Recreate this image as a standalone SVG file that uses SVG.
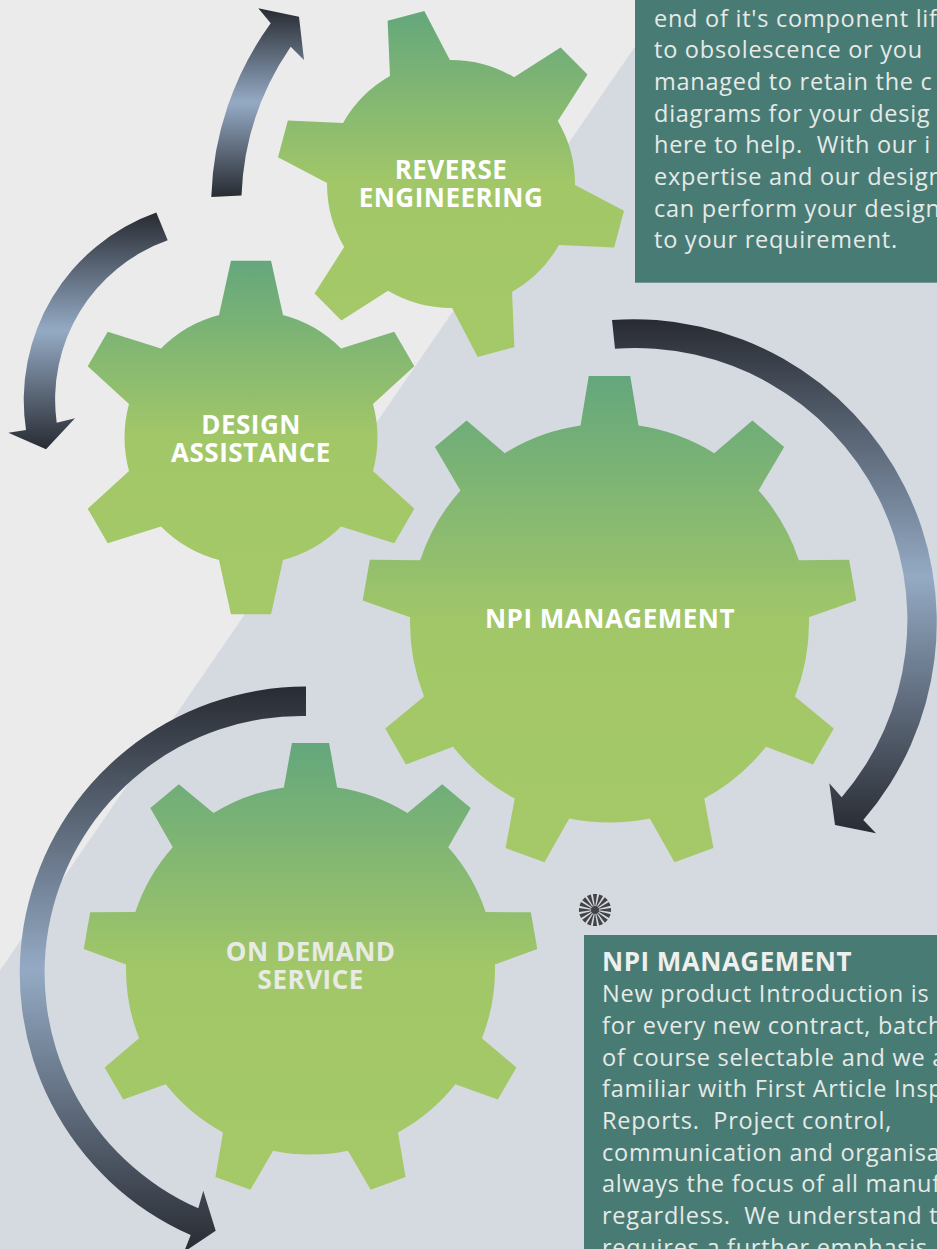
<svg xmlns="http://www.w3.org/2000/svg" xmlns:xlink="http://www.w3.org/1999/xlink" width="937" height="1249" viewBox="0 0 937 1249">
<style>
  .lbl { font-family: "Open Sans", "Liberation Sans", sans-serif; font-weight: 700; font-size: 26px; letter-spacing: 0.5px; fill: #ffffff; text-anchor: middle; }
  .lbl-dim { fill: #e8eae4; }
  .body { font-family: "Open Sans", "Liberation Sans", sans-serif; font-size: 23.5px; letter-spacing: 0.75px; fill: #e6eae7; white-space: pre; }
  .head { font-family: "Open Sans", "Liberation Sans", sans-serif; font-weight: 700; font-size: 26px; letter-spacing: 0.5px; fill: #eef0ee; }
  .arrow { fill: url(#arrowGrad); }
  .gearfill { fill: url(#gearGrad); }
  .box { fill: #497b75; }
</style>
<defs>
  <linearGradient id="gearGrad" x1="0" y1="0" x2="0" y2="1">
    <stop offset="0" stop-color="#64a77c"/>
    <stop offset="0.5" stop-color="#a2c768"/>
    <stop offset="1" stop-color="#a5c967"/>
  </linearGradient>
  <linearGradient id="arrowGrad" x1="0" y1="0" x2="0" y2="1">
    <stop offset="0" stop-color="#282b32"/>
    <stop offset="0.5" stop-color="#94aac4"/>
    <stop offset="1" stop-color="#282b32"/>
  </linearGradient>
  <polygon id="tA" points="-19,-174 19,-174 32.2,-114.7 0,0 -32.2,-114.7"/>
  <polygon id="tB" points="-20,-177 20,-177 33.2,-116.9 0,0 -33.2,-116.9"/>
  <polygon id="tC" points="-20.75,-247 20.75,-247 29.8,-192.4 0,0 -29.8,-192.4"/>
  <polygon id="tD" points="-18.6,-227 18.6,-227 27.4,-178.2 0,0 -27.4,-178.2"/>
  <polygon id="ray" points="-2.1,-16 2.1,-16 0,-2"/>
  <clipPath id="cA">
    <circle cx="451" cy="184" r="124"/>
    <use href="#tA" transform="translate(451 184) rotate(-15)"/>
    <use href="#tA" transform="translate(451 184) rotate(45)"/>
    <use href="#tA" transform="translate(451 184) rotate(105)"/>
    <use href="#tA" transform="translate(451 184) rotate(165)"/>
    <use href="#tA" transform="translate(451 184) rotate(225)"/>
    <use href="#tA" transform="translate(451 184) rotate(285)"/>
  </clipPath>
  <clipPath id="cB">
    <circle cx="251" cy="437.5" r="126.5"/>
    <use href="#tB" transform="translate(251 437.5) rotate(0)"/>
    <use href="#tB" transform="translate(251 437.5) rotate(60)"/>
    <use href="#tB" transform="translate(251 437.5) rotate(120)"/>
    <use href="#tB" transform="translate(251 437.5) rotate(180)"/>
    <use href="#tB" transform="translate(251 437.5) rotate(240)"/>
    <use href="#tB" transform="translate(251 437.5) rotate(300)"/>
  </clipPath>
  <clipPath id="cC">
    <circle cx="609.5" cy="623" r="199.5"/>
    <use href="#tC" transform="translate(609.5 623) rotate(0)"/>
    <use href="#tC" transform="translate(609.5 623) rotate(40)"/>
    <use href="#tC" transform="translate(609.5 623) rotate(80)"/>
    <use href="#tC" transform="translate(609.5 623) rotate(120)"/>
    <use href="#tC" transform="translate(609.5 623) rotate(160)"/>
    <use href="#tC" transform="translate(609.5 623) rotate(200)"/>
    <use href="#tC" transform="translate(609.5 623) rotate(240)"/>
    <use href="#tC" transform="translate(609.5 623) rotate(280)"/>
    <use href="#tC" transform="translate(609.5 623) rotate(320)"/>
  </clipPath>
  <clipPath id="cD">
    <circle cx="310.5" cy="970" r="184.5"/>
    <use href="#tD" transform="translate(310.5 970) rotate(0)"/>
    <use href="#tD" transform="translate(310.5 970) rotate(40)"/>
    <use href="#tD" transform="translate(310.5 970) rotate(80)"/>
    <use href="#tD" transform="translate(310.5 970) rotate(120)"/>
    <use href="#tD" transform="translate(310.5 970) rotate(160)"/>
    <use href="#tD" transform="translate(310.5 970) rotate(200)"/>
    <use href="#tD" transform="translate(310.5 970) rotate(240)"/>
    <use href="#tD" transform="translate(310.5 970) rotate(280)"/>
    <use href="#tD" transform="translate(310.5 970) rotate(320)"/>
  </clipPath>
</defs>

<g id="background">
  <rect x="0" y="0" width="937" height="1249" fill="#ebebeb"/>
  <polygon points="667,0 937,0 937,1249 0,1249 0,970.3" fill="#d5d9e0"/>
</g>

<g id="box-reverse">
  <rect class="box" x="635" y="-2" width="304" height="284.7"/>
  <text class="body" xml:space="preserve">
    <tspan x="654" y="26.7">end of it's component lif</tspan>
    <tspan x="654" y="58.3">to obsolescence or you</tspan>
    <tspan x="654" y="90">managed to retain the c</tspan>
    <tspan x="654" y="121.7">diagrams for your desig</tspan>
    <tspan x="654" y="153.3">here to help.  With our i</tspan>
    <tspan x="654" y="185">expertise and our design</tspan>
    <tspan x="654" y="216.7">can perform your design</tspan>
    <tspan x="654" y="248.3">to your requirement.</tspan>
  </text>
</g>

<g id="gear-reverse-engineering">
  <rect class="gearfill" x="277" y="10" width="348" height="348" clip-path="url(#cA)"/>
  <text class="lbl"><tspan x="451" y="178.6">REVERSE</tspan><tspan x="451" y="207">ENGINEERING</tspan></text>
</g>

<g id="gear-design-assistance">
  <rect class="gearfill" x="74" y="260.5" width="354" height="354" clip-path="url(#cB)"/>
  <text class="lbl"><tspan x="251" y="433.7">DESIGN</tspan><tspan x="251" y="461.5">ASSISTANCE</tspan></text>
</g>

<g id="gear-npi-management">
  <rect class="gearfill" x="362.5" y="376" width="494" height="494" clip-path="url(#cC)"/>
  <text class="lbl" x="610" y="628">NPI MANAGEMENT</text>
</g>

<g id="gear-on-demand-service">
  <rect class="gearfill" x="83.5" y="743" width="454" height="454" clip-path="url(#cD)"/>
  <text class="lbl lbl-dim"><tspan x="310.7" y="961.2">ON DEMAND</tspan><tspan x="310.7" y="989.1">SERVICE</tspan></text>
</g>

<g id="connectors">
  <path class="arrow" d="M211.3,196.9 A310.8,310.8 0 0 1 270.7,23.3 L258.3,8.3 L299,16.7 L304,60 L290.7,46.7 A280.8,280.8 0 0 0 241.5,195.5 Z"/>
  <path class="arrow" d="M156.3,212.6 A199,199 0 0 0 26,430 L8.3,432.7 L46,449.3 L75,418.3 L56.7,422.7 A169,169 0 0 1 167.7,240.3 Z"/>
  <path class="arrow" d="M612,320 A303,303 0 0 1 863.3,820 L876,833.3 L835,825 L829.3,783.3 L841.7,797.3 A272,272 0 0 0 615,348.8 Z"/>
  <path class="arrow" d="M306,686.6 A286.4,286.4 0 0 0 190.7,1235.1 L184,1252 L215.7,1230.7 L203.3,1190.7 L198.3,1208.3 A257,257 0 0 1 306,716 Z"/>
</g>

<g id="icon-burst" transform="translate(595 910)" fill="#434347">
  <use href="#ray" transform="rotate(0)"/>
  <use href="#ray" transform="rotate(22.5)"/>
  <use href="#ray" transform="rotate(45)"/>
  <use href="#ray" transform="rotate(67.5)"/>
  <use href="#ray" transform="rotate(90)"/>
  <use href="#ray" transform="rotate(112.5)"/>
  <use href="#ray" transform="rotate(135)"/>
  <use href="#ray" transform="rotate(157.5)"/>
  <use href="#ray" transform="rotate(180)"/>
  <use href="#ray" transform="rotate(202.5)"/>
  <use href="#ray" transform="rotate(225)"/>
  <use href="#ray" transform="rotate(247.5)"/>
  <use href="#ray" transform="rotate(270)"/>
  <use href="#ray" transform="rotate(292.5)"/>
  <use href="#ray" transform="rotate(315)"/>
  <use href="#ray" transform="rotate(337.5)"/>
  <circle cx="0" cy="0" r="4"/>
</g>

<g id="box-npi">
  <rect class="box" x="584" y="935" width="355" height="316"/>
  <text class="head" x="602" y="970.7">NPI MANAGEMENT</text>
  <text class="body" xml:space="preserve">
    <tspan x="602" y="1002.3">New product Introduction is</tspan>
    <tspan x="602" y="1034">for every new contract, batch</tspan>
    <tspan x="602" y="1065.7">of course selectable and we a</tspan>
    <tspan x="602" y="1097.3">familiar with First Article Insp</tspan>
    <tspan x="602" y="1129">Reports.  Project control,</tspan>
    <tspan x="602" y="1160.7">communication and organisa</tspan>
    <tspan x="602" y="1192.3">always the focus of all manuf</tspan>
    <tspan x="602" y="1224">regardless.  We understand t</tspan>
    <tspan x="602" y="1255.7">requires a further emphasis</tspan>
  </text>
</g>
</svg>
